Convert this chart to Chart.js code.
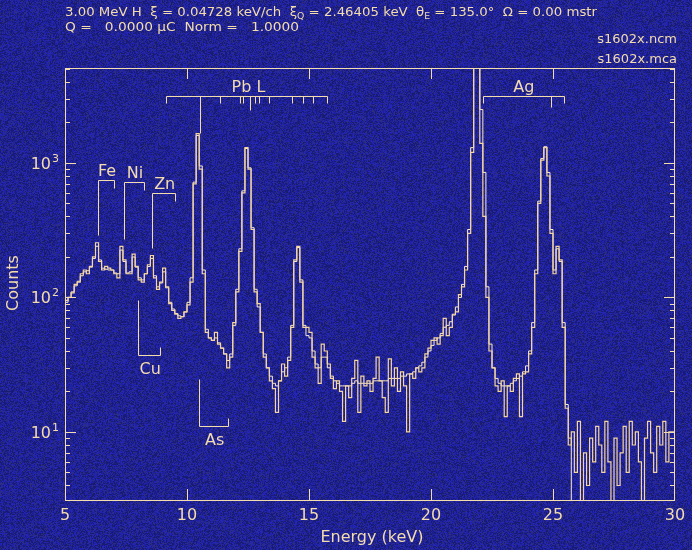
<!DOCTYPE html>
<html>
<head>
<meta charset="utf-8">
<script src="https://cdn.jsdelivr.net/npm/chart.js@4.4.1/dist/chart.umd.min.js"></script>
<style>
  html, body { margin: 0; padding: 0; background: #22288c; }
  #wrap { width: 692px; height: 550px; position: relative; }
</style>
</head>
<body>
<div id="wrap"><canvas id="spec"></canvas></div>
<script>
// spectrum binned at 0.125 keV, first bin starts at 5.0 keV
const binStart = 5.0;
const binWidth = 0.125;

// measured counts (orange histogram)
const counts = [
    80, 95, 100, 108, 125, 130, 150, 160, 150, 170,      // 5.0
    200, 255, 185, 160, 170, 165, 160, 150, 140, 240,    // 6.25
    190, 150, 150, 210, 170, 135, 130, 150, 175, 205,    // 7.5
    140, 115, 130, 165, 120, 90, 80, 75, 70, 72,         // 8.75
    78, 88, 130, 700, 1650, 900, 150, 55, 50, 48,        // 10.0
    55, 45, 42, 38, 30, 36, 65, 110, 220, 600,           // 11.25
    1300, 900, 320, 110, 90, 55, 36, 30, 24, 21,         // 12.5
    14, 24, 32, 26, 34, 60, 190, 240, 130, 60,           // 13.75
    60, 55, 36, 30, 23, 45, 40, 32, 25, 21,              // 15.0
    24, 20, 12, 22, 18, 25, 34, 14, 26, 22,              // 16.25
    24, 20, 25, 36, 24, 18, 14, 35, 22, 30,              // 17.5
    20, 28, 22, 10, 27, 25, 30, 28, 30, 38,              // 18.75
    42, 48, 50, 45, 52, 70, 52, 60, 75, 78,              // 20.0
    105, 120, 160, 300, 1200, 8000, 8000, 1400, 400, 100, // 21.25
    40, 30, 22, 20, 24, 13, 22, 20, 25, 27,              // 22.5
    13, 27, 28, 38, 60, 150, 500, 1050, 1300, 800,       // 23.75
    300, 150, 240, 190, 60, 15, 8, 10, 5, 12,            // 25.0
    2, 7, 4, 9, 6, 11, 8, 5, 12, 6,                      // 26.25
    2, 9, 4, 7, 11, 5, 12, 8, 10, 6,                     // 27.5
    3, 9, 12, 7, 5, 11, 8, 12, 6, 10                     // 28.75
];

// fitted spectrum (white line)
const fit = [
    82, 92, 100, 110, 122, 132, 145, 155, 158, 168,
    195, 240, 190, 165, 162, 160, 160, 152, 150, 225,
    185, 152, 155, 200, 168, 140, 135, 150, 170, 195,
    145, 120, 128, 155, 118, 92, 82, 76, 73, 72,
    78, 92, 140, 720, 1600, 950, 160, 58, 50, 48,
    50, 46, 42, 38, 34, 38, 62, 115, 230, 620,
    1280, 920, 330, 115, 85, 55, 38, 30, 26, 23,
    22, 24, 28, 30, 36, 62, 185, 235, 135, 62,
    52, 50, 40, 32, 30, 36, 36, 30, 26, 24,
    23, 22, 22, 22, 22, 23, 24, 23, 23, 23,
    23, 23, 24, 24, 24, 24, 24, 25, 25, 25,
    25, 26, 26, 27, 27, 28, 30, 31, 33, 36,
    40, 44, 48, 50, 54, 60, 62, 66, 74, 85,
    100, 125, 170, 320, 1300, 8000, 8000, 2500, 850, 120,
    45, 30, 25, 23, 22, 22, 22, 23, 24, 25,
    26, 28, 31, 40, 65, 160, 520, 1080, 1320, 850,
    320, 160, 230, 185, 65, 16, 9, 2.4, 2.3, 2.2,
    2.2, 2.1, 2.1, 2.0, 2.0, 2.0, 1.9, 1.9, 1.9, 1.8,
    1.8, 1.8, 1.7, 1.7, 1.7, 1.7, 1.6, 1.6, 1.6, 1.6,
    1.5, 1.5, 1.5, 1.5, 1.5, 1.4, 1.4, 1.4, 1.4, 1.4
];

const xTicks = [5, 10, 15, 20, 25, 30];
const yDecades = [1, 10, 100, 1000];
const xMin = 5, xMax = 30, yMin = 3.12, yMax = 5080;

// K line markers: alpha / beta energies, bar level and end of long leg (counts)
const kNames = ['Fe', 'Ni', 'Zn', 'Cu', 'As'];
const kAlpha = [6.36, 7.42, 8.57, 8.00, 10.50];
const kBeta = [7.01, 8.24, 9.52, 8.90, 11.69];
const kBar = [748, 722, 598, 37.5, 11];
const kEnd = [292, 272, 233, 96, 24.8];

// top markers: Pb L lines and Ag K lines
const topBar = 3150;
const pbLines = [9.15, 10.52, 11.34, 12.16, 12.30, 12.60, 12.80, 12.97, 13.35, 14.31, 14.75, 15.16, 15.72];
const pbEnds = [2790, 1670, 2790, 2790, 2790, 2480, 2790, 2790, 2790, 2790, 2790, 2790, 2790];
const agLines = [22.15, 24.92, 25.46];
const agEnds = [2790, 2600, 2790];

const ink = '#f3dcae';
const font = '"DejaVu Sans", sans-serif';

function toPoints(arr) {
    const pts = arr.map((v, i) => ({x: binStart + i * binWidth, y: v}));
    pts.push({x: binStart + arr.length * binWidth, y: arr[arr.length - 1]});
    return pts;
}

let noise = null;
function makeNoise(w, h) {
    const img = new ImageData(w, h);
    const pal = [[30, 32, 168], [26, 28, 112], [44, 44, 130], [30, 34, 150], [36, 38, 182], [24, 26, 122]];
    let s = 12345;
    for (let i = 0; i < w * h; i++) {
        s = (Math.imul(s, 1103515245) + 12345) >>> 0;
        const c = pal[(s >>> 16) % pal.length];
        img.data[i * 4] = c[0];
        img.data[i * 4 + 1] = c[1];
        img.data[i * 4 + 2] = c[2];
        img.data[i * 4 + 3] = 255;
    }
    return img;
}

const bgPlugin = {
    id: 'bg',
    beforeDraw(chart) {
        if (!noise || noise.width !== chart.width) noise = makeNoise(chart.width, chart.height);
        chart.ctx.putImageData(noise, 0, 0);
    }
};

function drawSegments(ctx, segs, x, y, target, size) {
    ctx.save();
    let w = 0;
    segs.forEach(s => {
        ctx.font = (s.sub ? size * 0.7 : size) + 'px ' + font;
        w += ctx.measureText(s.t).width;
    });
    ctx.translate(x, y);
    ctx.scale(target / w, 1);
    let cx = 0;
    segs.forEach(s => {
        ctx.font = (s.sub ? size * 0.7 : size) + 'px ' + font;
        ctx.fillText(s.t, cx, s.sub ? 3 : 0);
        cx += ctx.measureText(s.t).width;
    });
    ctx.restore();
}

const framePlugin = {
    id: 'frame',
    afterDatasetsDraw(chart) {
        const {ctx, chartArea: a} = chart;
        const x = chart.scales.x, y = chart.scales.y;
        const px = v => Math.round(x.getPixelForValue(v)) + 0.5;
        const py = v => Math.round(y.getPixelForValue(v)) + 0.5;
        ctx.save();
        ctx.strokeStyle = ink;
        ctx.fillStyle = ink;
        ctx.lineWidth = 1;

        // border
        ctx.strokeRect(a.left + 0.5, a.top + 0.5, a.right - a.left - 1, a.bottom - a.top);

        // inward ticks
        ctx.beginPath();
        xTicks.forEach(v => {
            if (v <= xMin || v >= xMax) return;
            const p = px(v);
            ctx.moveTo(p, a.bottom); ctx.lineTo(p, a.bottom - 11);
            ctx.moveTo(p, a.top); ctx.lineTo(p, a.top + 11);
        });
        yDecades.forEach(d => {
            for (let m = 1; m <= 9; m++) {
                const v = m * d;
                if (v < yMin || v > yMax) continue;
                const len = m === 1 ? 11 : 5;
                const p = py(v);
                ctx.moveTo(a.left, p); ctx.lineTo(a.left + len, p);
                ctx.moveTo(a.right, p); ctx.lineTo(a.right - len, p);
            }
        });
        ctx.stroke();

        // tick labels
        ctx.font = '16px ' + font;
        ctx.textAlign = 'center';
        ctx.textBaseline = 'alphabetic';
        xTicks.forEach(v => ctx.fillText(String(v), x.getPixelForValue(v), a.bottom + 20));
        yDecades.forEach(d => {
            if (d < yMin) return;
            const p = y.getPixelForValue(d);
            ctx.font = '16px ' + font;
            ctx.textAlign = 'right';
            ctx.fillText('10', 51, p + 6);
            ctx.font = '11px ' + font;
            ctx.textAlign = 'left';
            ctx.fillText(String(Math.round(Math.log10(d))), 52, p - 1);
        });

        // axis titles
        ctx.font = '16px ' + font;
        ctx.textAlign = 'center';
        ctx.fillText('Energy (keV)', (a.left + a.right) / 2 + 2, a.bottom + 42);
        ctx.save();
        ctx.translate(18, 283);
        ctx.rotate(-Math.PI / 2);
        ctx.fillText('Counts', 0, 0);
        ctx.restore();

        // K markers
        ctx.beginPath();
        kNames.forEach((n, i) => {
            const xa = px(kAlpha[i]), xb = px(kBeta[i]);
            const yb = py(kBar[i]), ye = py(kEnd[i]);
            const up = kEnd[i] < kBar[i];
            ctx.moveTo(xa, ye); ctx.lineTo(xa, yb); ctx.lineTo(xb, yb);
            ctx.lineTo(xb, up ? yb + 8 : yb - 8);
        });
        // top bars
        [[pbLines, pbEnds], [agLines, agEnds]].forEach(([ls, es]) => {
            const yb = py(topBar);
            ctx.moveTo(px(ls[0]), yb); ctx.lineTo(px(ls[ls.length - 1]), yb);
            ls.forEach((e, i) => { ctx.moveTo(px(e), yb); ctx.lineTo(px(e), py(es[i])); });
        });
        ctx.stroke();

        ctx.font = '16px ' + font;
        ctx.textAlign = 'center';
        kNames.forEach((n, i) => {
            const cx = (x.getPixelForValue(kAlpha[i]) + x.getPixelForValue(kBeta[i])) / 2;
            const yb = y.getPixelForValue(kBar[i]);
            const up = kEnd[i] < kBar[i];
            ctx.fillText(n, cx + 1, up ? yb - 4 : yb + 19);
        });
        const yb = y.getPixelForValue(topBar);
        ctx.fillText('Pb L', (x.getPixelForValue(pbLines[0]) + x.getPixelForValue(pbLines[pbLines.length - 1])) / 2 + 2, yb - 4);
        ctx.fillText('Ag', (x.getPixelForValue(agLines[0]) + x.getPixelForValue(agLines[agLines.length - 1])) / 2, yb - 4);

        // header
        ctx.textAlign = 'left';
        drawSegments(ctx, [
            {t: '3.00 MeV H  \u03be = 0.04728 keV/ch  \u03be'}, {t: 'Q', sub: true},
            {t: ' = 2.46405 keV  \u03b8'}, {t: 'E', sub: true},
            {t: ' = 135.0\u00b0  \u03a9 = 0.00 mstr'}
        ], 65, 16, 532, 12);
        drawSegments(ctx, [{t: 'Q =   0.0000 \u03bcC  Norm =   1.0000'}], 65, 31, 234, 12);
        ctx.font = '13px ' + font;
        ctx.textAlign = 'right';
        ctx.fillText('s1602x.ncm', 677, 43);
        ctx.fillText('s1602x.mca', 677, 63);
        ctx.restore();
    }
};

const chart = new Chart(document.getElementById('spec'), {
    type: 'line',
    data: {
        datasets: [{
            label: 'data',
            data: toPoints(counts),
            borderColor: '#f6d6a0',
            borderWidth: 1.2,
            stepped: 'after',
            pointRadius: 0,
            fill: false
        }, {
            label: 'fit',
            data: toPoints(fit),
            borderColor: '#fbeacb',
            borderWidth: 1,
            stepped: 'after',
            pointRadius: 0,
            fill: false
        }]
    },
    options: {
        responsive: true,
        maintainAspectRatio: false,
        animation: false,
        events: [],
        layout: {padding: {left: 65, right: 17, top: 68, bottom: 50}},
        scales: {
            x: {type: 'linear', min: xMin, max: xMax, display: false},
            y: {type: 'logarithmic', min: yMin, max: yMax, display: false}
        },
        plugins: {legend: {display: false}, tooltip: {enabled: false}}
    },
    plugins: [bgPlugin, framePlugin]
});
</script>
</body>
</html>
